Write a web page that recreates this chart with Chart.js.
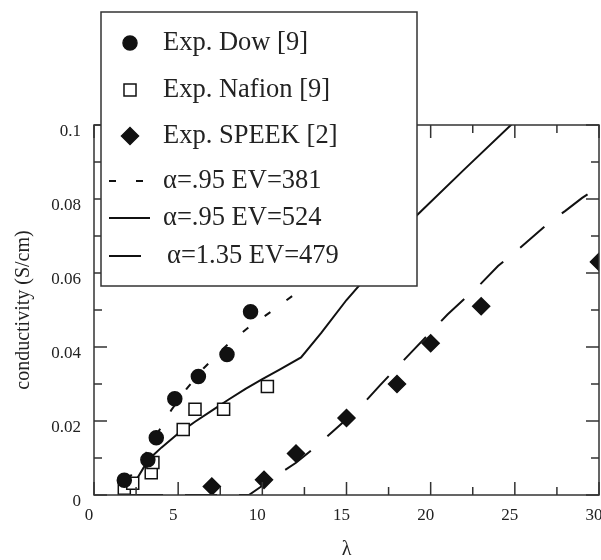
<!DOCTYPE html>
<html>
<head>
<meta charset="utf-8">
<script src="https://cdn.jsdelivr.net/npm/chart.js@4.4.1/dist/chart.umd.min.js"></script>
<style>
  html, body { margin: 0; padding: 0; background: #fff; }
</style>
</head>
<body>
<canvas id="chart" width="601" height="560"></canvas>
<script>
// measured points, lambda vs conductivity (S/cm)
const dowLambda = [1.8, 3.2, 3.7, 4.8, 6.2, 7.9, 9.3]
const dowSigma = [0.004, 0.0095, 0.0155, 0.026, 0.032, 0.038, 0.0495]

const nafionLambda = [1.8, 2.3, 3.4, 3.5, 5.3, 6.0, 7.7, 10.3]
const nafionSigma = [0.0018, 0.0032, 0.006, 0.0088, 0.0177, 0.0232, 0.0232, 0.0293]

const speekLambda = [7.0, 10.1, 12.0, 15.0, 18.0, 20.0, 23.0, 30.0]
const speekSigma = [0.0023, 0.0041, 0.0112, 0.0208, 0.030, 0.041, 0.051, 0.063]

// model curves
const fit381Lambda = [2.0, 3.0, 4.0, 4.6, 5.5, 6.5, 7.8, 9.1, 10.5, 11.9, 13.0]
const fit381Sigma = [0.004, 0.0105, 0.0185, 0.023, 0.0287, 0.0342, 0.0401, 0.045, 0.0495, 0.0542, 0.0575]

const fit524Lambda = [2.0, 2.5, 3.0, 3.5, 4.0, 5.0, 6.0, 7.0, 8.0, 9.0, 10.0, 11.0, 12.3, 13.5, 15.0, 16.5, 18.0, 19.2, 22.0, 25.0, 26.0]
const fit524Sigma = [0.0005, 0.004, 0.0078, 0.0107, 0.0128, 0.0166, 0.0198, 0.0228, 0.0258, 0.0287, 0.0313, 0.0338, 0.0372, 0.0438, 0.0527, 0.0605, 0.069, 0.0757, 0.088, 0.101, 0.105]

const fit479Lambda = [2.2, 9.2, 10, 11, 12, 13, 14, 15, 16, 17, 18, 19, 20, 21, 22, 23, 24, 25, 26, 27, 28, 29, 30]
const fit479Sigma = [0, 0, 0.0025, 0.0057, 0.0087, 0.0124, 0.0164, 0.0205, 0.0247, 0.0297, 0.0345, 0.0393, 0.044, 0.0488, 0.053, 0.0572, 0.0619, 0.0656, 0.0695, 0.0735, 0.0768, 0.0803, 0.0833]

const labels = ['Exp. Dow [9]', 'Exp. Nafion [9]', 'Exp. SPEEK [2]',
  'α=.95 EV=381', 'α=.95 EV=524', 'α=1.35 EV=479']

const xMax = 30, xMajor = 5, xMinor = 2.5
const yMax = 0.1, yMajor = 0.02, yMinor = 0.01

const serif = '"Liberation Serif", "DejaVu Serif", serif'
const ink = '#222'

function pairs(xs, ys) {
  return xs.map((x, i) => ({x: x, y: ys[i]}))
}

function markers(label, xs, ys, style, radius, fill) {
  return {
    label: label,
    data: pairs(xs, ys),
    pointStyle: style,
    pointRadius: radius,
    pointBackgroundColor: fill,
    pointBorderColor: '#111',
    pointBorderWidth: 1.5,
    backgroundColor: fill,
    borderColor: '#111',
    borderWidth: 1.5,
    showLine: false
  }
}

function curve(label, xs, ys, dash) {
  return {
    label: label,
    data: pairs(xs, ys),
    showLine: true,
    pointRadius: 0,
    borderColor: '#111',
    backgroundColor: '#111',
    borderWidth: 2,
    borderDash: dash,
    tension: 0,
    fill: false
  }
}

// inward ticks on all four sides plus the frame
const frameTicks = {
  id: 'frameTicks',
  afterDatasetsDraw(chart) {
    const {ctx, chartArea: a, scales: {x, y}} = chart
    ctx.save()
    ctx.strokeStyle = '#333'
    ctx.lineWidth = 1.5
    ctx.strokeRect(a.left, a.top, a.right - a.left, a.bottom - a.top)
    ctx.beginPath()
    for (let i = 0; i * xMinor <= xMax + 1e-9; i++) {
      const px = x.getPixelForValue(i * xMinor)
      const len = (i * xMinor) % xMajor === 0 ? 13 : 8
      ctx.moveTo(px, a.bottom); ctx.lineTo(px, a.bottom - len)
      ctx.moveTo(px, a.top); ctx.lineTo(px, a.top + len)
    }
    const perMajor = Math.round(yMajor / yMinor)
    for (let i = 0; i * yMinor <= yMax + 1e-9; i++) {
      const py = y.getPixelForValue(i * yMinor)
      const len = i % perMajor === 0 ? 13 : 8
      ctx.moveTo(a.left, py); ctx.lineTo(a.left + len, py)
      ctx.moveTo(a.right, py); ctx.lineTo(a.right - len, py)
    }
    ctx.stroke()
    ctx.restore()
  }
}

// boxed legend laid over the top left of the plot
const boxLegend = {
  id: 'boxLegend',
  afterDraw(chart) {
    const ctx = chart.ctx
    const box = {left: 101, top: 12, right: 417, bottom: 286}
    const rowY = [43, 90, 136, 181, 218, 256]
    ctx.save()
    ctx.fillStyle = '#fff'
    ctx.fillRect(box.left, box.top, box.right - box.left, box.bottom - box.top)
    ctx.strokeStyle = '#333'
    ctx.lineWidth = 1.5
    ctx.strokeRect(box.left, box.top, box.right - box.left, box.bottom - box.top)
    chart.data.datasets.forEach((ds, i) => {
      const y = rowY[i]
      ctx.strokeStyle = '#111'
      ctx.fillStyle = ds.backgroundColor
      ctx.lineWidth = ds.borderWidth
      if (ds.showLine) {
        ctx.setLineDash(ds.borderDash || [])
        ctx.beginPath()
        ctx.moveTo(109, y)
        ctx.lineTo(150, y)
        ctx.stroke()
        ctx.setLineDash([])
      } else {
        Chart.helpers.drawPoint(ctx, {
          pointStyle: ds.pointStyle,
          radius: ds.pointRadius,
          borderWidth: ds.borderWidth,
          rotation: 0
        }, 130, y)
      }
      ctx.fillStyle = ink
      ctx.font = '26.5px ' + serif
      ctx.textBaseline = 'middle'
      ctx.textAlign = 'left'
      ctx.fillText(ds.label, i === 5 ? 167 : 163, y)
    })
    ctx.restore()
  }
}

const tickFont = {family: serif, size: 17}

new Chart(document.getElementById('chart'), {
  type: 'scatter',
  data: {
    datasets: [
      markers(labels[0], dowLambda, dowSigma, 'circle', 7, '#111'),
      markers(labels[1], nafionLambda, nafionSigma, 'rect', 8.5, '#fff'),
      markers(labels[2], speekLambda, speekSigma, 'rectRot', 8.5, '#111'),
      curve(labels[3], fit381Lambda, fit381Sigma, [7, 20]),
      curve(labels[4], fit524Lambda, fit524Sigma, []),
      curve(labels[5], fit479Lambda, fit479Sigma, [32, 22])
    ]
  },
  options: {
    responsive: false,
    animation: false,
    events: [],
    layout: {autoPadding: false, padding: {top: 125, right: 2, left: 0, bottom: 0}},
    plugins: {
      legend: {display: false},
      tooltip: {enabled: false}
    },
    scales: {
      x: {
        type: 'linear',
        min: 0,
        max: xMax,
        grid: {display: false, drawTicks: false},
        border: {display: false},
        ticks: {
          stepSize: xMajor,
          padding: 10,
          labelOffset: -5,
          maxRotation: 0,
          font: tickFont,
          color: ink
        },
        title: {
          display: true,
          text: 'λ',
          color: ink,
          font: {family: serif, size: 20, lineHeight: 1},
          padding: 0
        },
        afterFit(s) {
          s.height = 65
          s.paddingLeft = 0
          s.paddingRight = 0
        }
      },
      y: {
        type: 'linear',
        min: 0,
        max: yMax,
        grid: {display: false, drawTicks: false},
        border: {display: false},
        ticks: {
          stepSize: yMajor,
          padding: 13,
          labelOffset: 7,
          font: tickFont,
          color: ink,
          callback: v => String(+v.toFixed(2))
        },
        title: {
          display: true,
          text: 'conductivity (S/cm)',
          color: ink,
          font: {family: serif, size: 20},
          padding: {top: 12, bottom: 0}
        },
        afterFit(s) {
          s.width = 94
          s.paddingTop = 0
          s.paddingBottom = 0
        }
      }
    }
  },
  plugins: [frameTicks, boxLegend]
})
</script>
</body>
</html>
